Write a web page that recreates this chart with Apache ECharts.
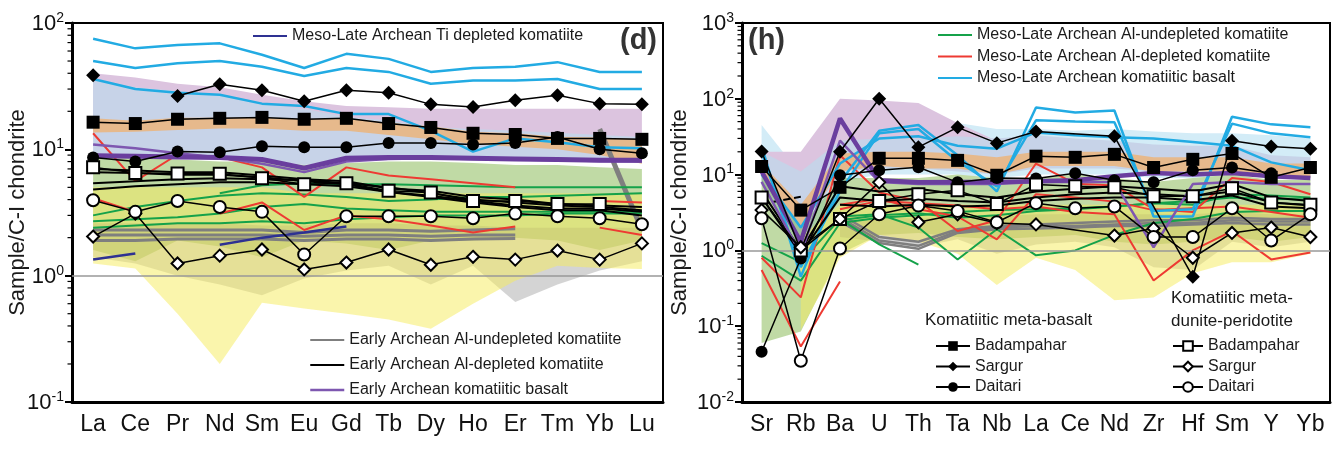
<!DOCTYPE html>
<html><head><meta charset="utf-8">
<script src="https://cdn.jsdelivr.net/npm/echarts@6/dist/echarts.min.js"></script>
<style>html,body{margin:0;padding:0;background:#fff}#c{width:1343px;height:450px}</style>
</head><body><div id="c"></div>
<script>
// ---------- categories ----------
const REE = ['La','Ce','Pr','Nd','Sm','Eu','Gd','Tb','Dy','Ho','Er','Tm','Yb','Lu'];
const TE = ['Sr','Rb','Ba','U','Th','Ta','Nb','La','Ce','Nd','Zr','Hf','Sm','Y','Yb'];
const MINOR_STEPS = [2,3,4,5,6,7,8,9];
const DECADES_D = [0.1,1,10];
const DECADES_H = [0.01,0.1,1,10,100];

// ---------- panel (d) : REE ----------
const dCyan1 = [75,63,67,69,56,44,57,52,41,44,45,49,41,41];
const dCyan2 = [50,44,48,50,45,38,44,41,33,35,35,36,30,30];
const dCyan3 = [36,30,28,27,23,22,19,19,14,9.6,12.2,11.4,10.4,10.2];
const dRed1 = [13.4,5.6,9.1,8.7,7.2,4.2,7.2,6.2,5.8,5.4,5.0,null,null,null];
const dRed2 = [4.1,3.2,null,3.1,3.8,2.3,3.0,2.8,2.5,2.2,2.45,null,null,null];
const dRed3 = [null,null,null,null,null,null,null,null,null,null,null,null,3.9,3.8];
const dRed4 = [null,null,null,null,null,null,null,null,null,null,null,null,2.4,2.1];
const dGrn1 = [null,null,null,4.5,5.2,5.4,5.3,5.3,5.2,5.1,5.0,5.0,5.0,5.0];
const dGrn2 = [3.0,3.5,3.9,4.3,4.5,4.4,4.2,3.9,4.0,4.2,4.2,4.3,4.4,4.5];
const dGrn3 = [2.7,2.8,2.9,3.1,3.5,3.7,3.4,3.3,3.2,3.2,3.2,3.2,3.2,3.2];
const dGrn4 = [2.4,2.5,2.6,2.6,2.7,2.6,2.8,2.9,3.0,3.0,3.0,3.1,3.1,3.1];
const dGry1 = [2.3,2.3,2.3,2.3,2.3,2.2,2.3,2.3,2.25,2.3,2.35,null,null,null];
const dGry2 = [2.1,2.1,2.1,2.1,2.1,2.05,2.1,2.1,2.05,2.1,2.1,null,null,null];
const dGry3 = [1.9,1.9,1.95,1.95,1.95,1.9,1.95,1.95,1.9,1.95,1.97,null,null,null];
const dGry4 = [null,null,null,null,null,null,null,null,null,null,null,null,14.5,2.3];
const dBlu1 = [1.34,1.5,null,1.76,2.0,2.2,2.45,null,null,null,null,null,null,null];
const dBlk1 = [7.0,6.8,6.6,6.6,6.2,5.8,5.6,4.9,4.7,4.2,4.0,3.7,3.6,3.5];
const dBlk2 = [6.6,6.5,6.3,6.3,6.0,5.6,5.3,4.6,4.3,3.9,3.6,3.4,3.4,3.2];
const dBlk3 = [5.4,5.6,5.8,5.9,5.8,5.7,5.4,5.0,4.5,4.0,3.8,3.6,3.5,3.3];
const dBlk4 = [4.8,5.1,5.3,5.5,5.5,5.3,5.1,4.6,4.2,3.8,3.5,3.3,3.3,3.0];
const dPurThin = [10.9,10.2,9.3,8.6,7.7,6.6,8.0,8.4,8.5,8.4,8.3,8.2,8.1,8.0];
const dPurThick = [8.9,8.8,8.7,8.6,8.3,7.1,8.5,8.6,8.6,8.5,8.4,8.3,8.2,8.2];
const dBadB = [16.4,16,17.3,17.6,17.9,17.3,17.6,16,14.9,13.4,13.1,12.2,12.2,12];
const dSarB = [38.6,null,26.4,32.8,29.4,24,29.4,28,22.7,21.6,24.5,26.8,23,22.7];
const dDaiB = [8.6,8.0,9.6,9.5,10.6,10.4,10.4,11.2,11.2,10.9,11.2,12.5,10,9.3];
const dBadD = [7.2,6.5,6.45,6.4,5.9,5.3,5.4,4.7,4.55,3.9,3.9,3.7,3.7,null];
const dSarD = [2.04,3.1,1.25,1.44,1.61,1.12,1.27,1.61,1.22,1.41,1.34,1.58,1.34,1.8];
const dDaiD = [3.95,3.2,3.9,3.5,3.2,1.47,2.95,2.95,2.95,2.85,3.1,2.95,2.85,2.55];
// fields (lower / upper)
const dFieldPurUp = [40,37,33,31,27,24,22,21.5,21,21,21,21,21,21];
const dFieldPurLo = [12,12,12,12,12,12,12,12,12,12,12,12,12,12];
const dFieldBluUp = [36,31,29,27,23,21,18,17,15,14.5,14,13.5,13,12.5];
const dFieldBluLo = [8.5,8.5,8.5,8.5,8.3,7.5,8.3,8.4,8.4,8.3,8.2,8.1,8.0,8.0];
const dFieldOrUp = [17.6,16.8,17.8,17.8,17.8,17.2,17.6,16.2,15.2,13.8,13.4,12.6,12.4,12];
const dFieldOrLo = [13.6,13.8,14.2,14.6,14.6,14,14,13,12,11,10.5,10,9,7.7];
const dFieldGrnUp = [8.5,8.5,8.3,8.0,8.0,7.5,7.8,8.0,8.0,7.8,7.5,7.5,7.2,7.0];
const dFieldGrnLo = [1.6,1.3,1.9,1.7,1.4,1.9,1.8,1.6,1.9,1.9,2.0,1.9,1.6,1.9];
const dFieldGryUp = [2.6,2.6,2.6,2.6,2.5,2.5,2.6,2.6,2.5,2.5,2.4,2.4,2.4,2.4];
const dFieldGryLo = [1.4,1.25,1.0,0.85,0.7,0.95,1.1,1.2,0.85,1.2,0.62,0.85,1.1,1.3];
const dFieldYelUp = [5,5,5,5,5,4.5,4.5,4.5,4.5,4.5,4.5,4.5,4.5,4.5];
const dFieldYelLo = [1.25,1.14,0.5,0.2,0.61,0.55,0.5,0.45,0.38,0.6,0.91,1.2,1.15,1.13];

// ---------- panel (h) : trace elements ----------
const hCyan1 = [24,0.45,8,38,45,18,6,77,66,70,2.8,2.8,58,46,42];
const hCyan2 = [20,0.6,6,35,40,15,7,52,50,49,3.3,3.5,47,35,31];
const hCyan3 = [10,2.0,14,30,32,24,22,36,33,31,30,27,24,14.5,11.4];
const hRed1 = [0.8,0.24,18,5.8,4.5,1.8,2.5,14,7.6,7.2,3.5,3.2,9,8.0,5.5];
const hRed2 = [0.55,0.054,0.39,null,null,null,null,null,null,null,null,null,null,null,null];
const hRed3 = [null,null,3.5,4.5,4.2,3.9,3.5,3.8,3.2,3.0,0.4,1.0,1.8,0.76,0.94];
const hRed4 = [null,null,4.0,4.8,3.5,2.8,1.4,5.5,5.0,4.4,3.4,3.6,3.8,3.2,2.7];
const hGrn1 = [1.25,0.7,2.6,1.2,0.65,null,null,null,null,null,null,null,null,null,null];
const hGrn2 = [null,null,2.8,3.0,2.0,0.76,1.9,0.86,1.0,1.6,2.3,2.6,3.2,3.3,3.3];
const hGrn3 = [null,null,2.5,2.9,3.1,2.7,2.9,3.3,3.5,3.8,4.2,4.5,5.0,4.8,4.7];
const hGrn4 = [0.85,0.4,2.3,2.7,2.9,3.2,3.4,3.5,3.6,3.8,4.2,4.0,5.5,5.3,5.0];
const hGry1 = [null,null,3.0,1.5,1.3,1.9,2.1,2.2,2.3,2.4,2.5,2.5,2.7,2.6,2.6];
const hGry2 = [null,null,2.7,1.35,1.15,1.8,2.0,2.1,2.1,2.2,2.3,2.3,2.5,2.4,2.4];
const hGry3 = [null,null,2.4,1.25,1.05,1.7,1.9,1.95,2.0,2.1,2.1,2.2,2.3,2.2,2.2];
const hBlk1 = [6,1.0,7,6,6.5,5.5,5.0,6.0,6.5,7.0,6.5,6.0,7.5,5.0,4.5];
const hBlk2 = [5,0.9,5,4.5,4.8,4.5,4.3,5.0,5.5,5.8,5.5,5.2,6.0,4.3,3.9];
const hBlk3 = [null,null,4,3.8,4.0,3.8,3.9,4.5,4.8,5.0,5.0,4.6,5.3,3.8,3.6];
const hDash = [4.1,5.1,null,null,null,null,null,null,null,null,null,null,null,null,null];
const hPurThick = [11,1.3,55,8.4,7.9,8.0,8.0,8.2,8.4,9.5,10.5,10,10.5,9.5,9];
const hPurThin1 = [8,0.9,28,8,7.5,7.5,7.5,8,8,8,1.1,7.5,8,7.5,7.5];
const hBadB = [12.8,3.4,6.8,16.4,16.4,15.4,9.8,17.5,16.9,18.5,12.4,15.9,19,9.2,12.4];
const hSarB = [20.2,1.0,20,100,23,42,26,37,null,32,null,0.45,28,23.5,22];
const hDaiB = [0.046,0.78,9.8,11.4,12.5,7.9,9.0,8.9,10.4,8.4,7.9,11.4,12.4,10.4,null];
const hBadD = [5.0,1.0,2.6,4.5,5.5,6.2,4.1,7.4,7.0,6.8,5.2,5.2,6.6,4.3,4.0];
const hSarD = [3.4,1.1,2.6,7.9,2.35,3.0,2.3,2.2,null,1.57,1.95,0.8,1.7,2.0,1.5];
const hDaiD = [2.65,0.035,1.06,3.0,3.9,3.3,2.35,4.2,3.6,3.8,1.5,1.5,3.6,1.35,3.0];
// fields
const hFieldCyUp = [45,10,35,40,45,48,40,40,38,40,37,35,35,33,30];
const hFieldCyLo = [8,1,8,10,10,10,9,10,10,10,9,9,10,9,9];
const hFieldPurUp = [20,20,100,95,88,48,28,null,null,null,null,null,null,null,null];
const hFieldPurLo = [12,4,20,25,25,20,18,null,null,null,null,null,null,null,null];
const hFieldBluUp = [20,11,28,30,30,32,30,33,30,28,25,24,24,18,17];
const hFieldBluLo = [8,1.5,11,12,12,11,10,12,12,12,11,11,12,10,10];
const hFieldOrUp = [14,4,19,20,20,19,17,20,20,20,17,17,17,14,14];
const hFieldOrLo = [10,2,11,13,12,12,10,13,13,13,11,11,11,9,9];
const hFieldGrnUp = [10,2,9,9,9,10,9,9,10,9,8,9,10,8.5,8.5];
const hFieldGrnLo = [0.06,0.085,0.9,1.6,1.7,1.5,1.4,1.5,1.6,1.3,1.2,1.3,1.5,1.3,1.5];
const hFieldGryUp = [null,null,3,2.8,2.6,2.8,2.8,3,3,3,3,3,3.2,3,3];
const hFieldGryLo = [null,null,1.5,1.3,1.1,1.4,0.9,1.2,1.3,1.1,0.6,0.55,1.3,1.1,1.3];
const hFieldYelUp = [null,1.5,4,4,4,4,4,4,4,4,4,4,4,4,4];
const hFieldYelLo = [null,0.09,0.8,1.6,1.3,0.9,0.35,0.8,0.55,0.22,0.24,0.5,0.7,0.7,0.9];

// ---------- names & colours ----------
const N_TI='Meso-Late Archean Ti depleted komatiite', N_EUND='Early Archean Al-undepleted komatiite',
      N_EDEP='Early Archean Al-depleted komatiite', N_EKB='Early Archean komatiitic basalt',
      N_MUND='Meso-Late Archean Al-undepleted komatiite', N_MDEP='Meso-Late Archean Al-depleted komatiite',
      N_MKB='Meso-Late Archean komatiitic basalt';
const C_CY='#22ABE3', C_RED='#EE3A32', C_GRN='#15A24A', C_GRY='#7F7F7F', C_BLU='#2E3192', C_PUR='#6A3E9E', C_PUR2='#7E57B0';
const FONT='"Liberation Sans", Arial, sans-serif';
const GRN_FILL='rgba(112,170,50,0.44)', GRY_FILL='rgba(120,120,120,0.32)', YEL_FILL='rgba(246,236,95,0.52)';

const series = [];
function field(g, lo, up, color, z){
  series.push({type:'custom', xAxisIndex:g, yAxisIndex:g, silent:true, z:z||1, clip:true, animation:false,
    data:[[0,1]],
    renderItem:(params, api)=>{
      const top=[], bot=[];
      for(let i=0;i<up.length;i++){
        if(up[i]==null||lo[i]==null) continue;
        top.push(api.coord([i, up[i]])); bot.push(api.coord([i, lo[i]]));
      }
      return {type:'polygon', shape:{points: top.concat(bot.reverse())}, style:{fill:color}};
    }});
}
function line(g, name, data, color, width, z, extra){
  const s = {type:'line', name, xAxisIndex:g, yAxisIndex:g, data, symbol:'none', silent:true, animation:false,
    connectNulls:false, z:z||2, lineStyle:{color, width:width||2}, itemStyle:{color}};
  series.push(Object.assign(s, extra||{}));
}
function sample(g, name, data, sym, filled, size){
  series.push({type:'line', name, xAxisIndex:g, yAxisIndex:g, data, symbol:sym, symbolSize:size,
    silent:true, animation:false, connectNulls:true, z:5,
    lineStyle:{color:'#000', width:1.5},
    itemStyle: filled ? {color:'#000'} : {color:'#fff', borderColor:'#000', borderWidth:2}});
}
function minorTicks(g, decades){
  const vals=[]; decades.forEach(d=>MINOR_STEPS.forEach(m=>vals.push([0, d*m])));
  series.push({type:'custom', xAxisIndex:g, yAxisIndex:g, silent:true, clip:false, z:6, animation:false, data:vals,
    renderItem:(params, api)=>{
      const y = api.coord([0, api.value(1)])[1]; const x0 = params.coordSys.x;
      return {type:'line', shape:{x1:x0-4.5, y1:y, x2:x0, y2:y}, style:{stroke:'#000', lineWidth:1.2}};
    }});
}
const ML = {silent:true, symbol:'none', label:{show:false}, animation:false,
  lineStyle:{color:'#999', width:1.5, type:'solid'}, data:[{yAxis:1}]};

// ---- panel d ----
field(0, dFieldPurLo, dFieldPurUp, '#DCC4DF');
field(0, dFieldBluLo, dFieldBluUp, '#C7D3E8');
field(0, dFieldOrLo, dFieldOrUp, '#E6B98C');
field(0, dFieldGrnLo, dFieldGrnUp, GRN_FILL);
field(0, dFieldGryLo, dFieldGryUp, GRY_FILL);
field(0, dFieldYelLo, dFieldYelUp, YEL_FILL);
line(0, N_EUND, dGry1, C_GRY, 3, 2, {markLine:ML});
line(0, N_EUND, dGry2, C_GRY, 3);
line(0, N_EUND, dGry3, C_GRY, 3);
line(0, N_EUND, dGry4, C_GRY, 5);
[dGrn1,dGrn2,dGrn3,dGrn4].forEach(d=>line(0, N_MUND, d, C_GRN, 2));
[dRed1,dRed2,dRed3,dRed4].forEach(d=>line(0, N_MDEP, d, C_RED, 2));
[dCyan1,dCyan2,dCyan3].forEach(d=>line(0, N_MKB, d, C_CY, 2.5));
line(0, N_TI, dBlu1, C_BLU, 2.5);
[dBlk1,dBlk2,dBlk3,dBlk4].forEach(d=>line(0, N_EDEP, d, '#000', 2));
line(0, N_EKB, dPurThin, C_PUR2, 2.5, 3);
line(0, N_EKB, dPurThick, C_PUR, 5, 3);
sample(0, 'Badampahar (b)', dBadB, 'rect', true, 13);
sample(0, 'Sargur (b)', dSarB, 'diamond', true, 14);
sample(0, 'Daitari (b)', dDaiB, 'circle', true, 12);
sample(0, 'Badampahar (d)', dBadD, 'rect', false, 12);
sample(0, 'Sargur (d)', dSarD, 'diamond', false, 12);
sample(0, 'Daitari (d)', dDaiD, 'circle', false, 12);
series[series.length-5].connectNulls=false; // Sargur basalt: La stands alone
minorTicks(0, DECADES_D);

// ---- panel h ----
field(1, hFieldCyLo, hFieldCyUp, '#D3ECF7');
field(1, hFieldPurLo, hFieldPurUp, '#DCC4DF');
field(1, hFieldBluLo, hFieldBluUp, '#C7D3E8');
field(1, hFieldOrLo, hFieldOrUp, '#E6B98C');
field(1, hFieldGrnLo, hFieldGrnUp, GRN_FILL);
field(1, hFieldGryLo, hFieldGryUp, GRY_FILL);
field(1, hFieldYelLo, hFieldYelUp, YEL_FILL);
line(1, N_EUND, hGry1, C_GRY, 2.5, 2, {markLine:ML});
line(1, N_EUND, hGry2, C_GRY, 2.5);
line(1, N_EUND, hGry3, C_GRY, 2.5);
[hGrn1,hGrn2,hGrn3,hGrn4].forEach(d=>line(1, N_MUND, d, C_GRN, 2));
[hRed1,hRed2,hRed3,hRed4].forEach(d=>line(1, N_MDEP, d, C_RED, 2));
[hCyan1,hCyan2,hCyan3].forEach(d=>line(1, N_MKB, d, C_CY, 2.5));
[hBlk1,hBlk2,hBlk3].forEach(d=>line(1, N_EDEP, d, '#000', 2));
line(1, 'dash', hDash, '#000', 2, 3, {lineStyle:{color:'#000', width:2, type:[7,4]}});
line(1, N_EKB, hPurThin1, C_PUR2, 2.5, 3);
line(1, N_EKB, hPurThick, C_PUR, 4.5, 3);
sample(1, 'Badampahar (b)', hBadB, 'rect', true, 13);
sample(1, 'Sargur (b)', hSarB, 'diamond', true, 14);
sample(1, 'Daitari (b)', hDaiB, 'circle', true, 12);
sample(1, 'Badampahar (d)', hBadD, 'rect', false, 12);
sample(1, 'Sargur (d)', hSarD, 'diamond', false, 12);
sample(1, 'Daitari (d)', hDaiD, 'circle', false, 12);
minorTicks(1, DECADES_H);

function yAxis(g, min, max, gap){
  return {type:'log', logBase:10, gridIndex:g, min, max,
    axisLine:{show:true, lineStyle:{color:'#000', width:3}},
    axisTick:{show:true, length:7, lineStyle:{color:'#000', width:2}},
    splitLine:{show:false},
    axisLabel:{margin:8, formatter:v=>'{b|10}{s|'+Math.round(Math.log10(v))+'}',
      rich:{b:{fontSize:22, lineHeight:24, fontFamily:FONT, color:'#111', verticalAlign:'bottom'},
            s:{fontSize:14, lineHeight:14, fontFamily:FONT, color:'#111', verticalAlign:'top'}}},
    name:'Sample/C-I chondrite', nameLocation:'middle', nameGap:gap, nameMoveOverlap:false,
    nameTextStyle:{fontSize:22, color:'#1a1a1a', fontFamily:FONT}};
}
function xAxis(g, data){
  return {type:'category', gridIndex:g, data, boundaryGap:true,
    axisLine:{lineStyle:{color:'#000', width:3}},
    axisTick:{alignWithLabel:true, length:6, lineStyle:{color:'#000', width:2}},
    axisLabel:{interval:0, fontSize:23, color:'#111', margin:11, fontFamily:FONT},
    splitLine:{show:false}};
}
const legText = {fontSize:16, color:'#1a1a1a', fontFamily:FONT, lineHeight:16};
const noSym = {opacity:0};
const option = {
  backgroundColor:'#fff', animation:false,
  grid:[
    {left:72, top:23, width:591, height:379, show:true, borderColor:'#000', borderWidth:2},
    {left:742, top:23, width:588, height:379, show:true, borderColor:'#000', borderWidth:2}
  ],
  xAxis:[xAxis(0, REE), xAxis(1, TE)],
  yAxis:[yAxis(0, 0.1, 100, 43), yAxis(1, 0.01, 1000, 51)],
  legend:[
    {left:252, top:28, padding:0, itemWidth:34, itemHeight:12, textStyle:legText, selectedMode:false, itemStyle:noSym,
      data:[N_TI]},
    {left:309, top:332, padding:0, orient:'vertical', itemWidth:34, itemHeight:12, itemGap:9, textStyle:legText, selectedMode:false, itemStyle:noSym,
      data:[N_EUND, N_EDEP, {name:N_EKB, lineStyle:{width:2.5}}]},
    {left:937, top:27, padding:0, orient:'vertical', itemWidth:34, itemHeight:12, itemGap:5.5, textStyle:legText, selectedMode:false, itemStyle:noSym,
      data:[N_MUND, N_MDEP, N_MKB]},
    {left:935, top:338, padding:0, orient:'vertical', itemWidth:34, itemHeight:12, itemGap:4.5, textStyle:legText, selectedMode:false,
      formatter:n=>n.replace(/ \(.\)$/,''), data:['Badampahar (b)','Sargur (b)','Daitari (b)']},
    {left:1172, top:338, padding:0, orient:'vertical', itemWidth:30, itemHeight:12, itemGap:4.5, textStyle:legText, selectedMode:false,
      formatter:n=>n.replace(/ \(.\)$/,''), data:['Badampahar (d)','Sargur (d)','Daitari (d)']}
  ],
  graphic:[
    {type:'text', left:620, top:26, z:10, style:{text:'(d)', font:'bold 29px '+FONT, fill:'#333'}},
    {type:'text', left:748, top:26, z:10, style:{text:'(h)', font:'bold 29px '+FONT, fill:'#333'}},
    {type:'text', left:925, top:312, z:10, style:{text:'Komatiitic meta-basalt', font:'17px '+FONT, fill:'#1a1a1a'}},
    {type:'text', left:1171, top:287, z:10, style:{text:'Komatiitic meta-\ndunite-peridotite', font:'17px '+FONT, lineHeight:23, fill:'#1a1a1a'}}
  ],
  series
};
const chart = echarts.init(document.getElementById('c'), null, {renderer:'canvas'});
chart.setOption(option);
</script></body></html>
